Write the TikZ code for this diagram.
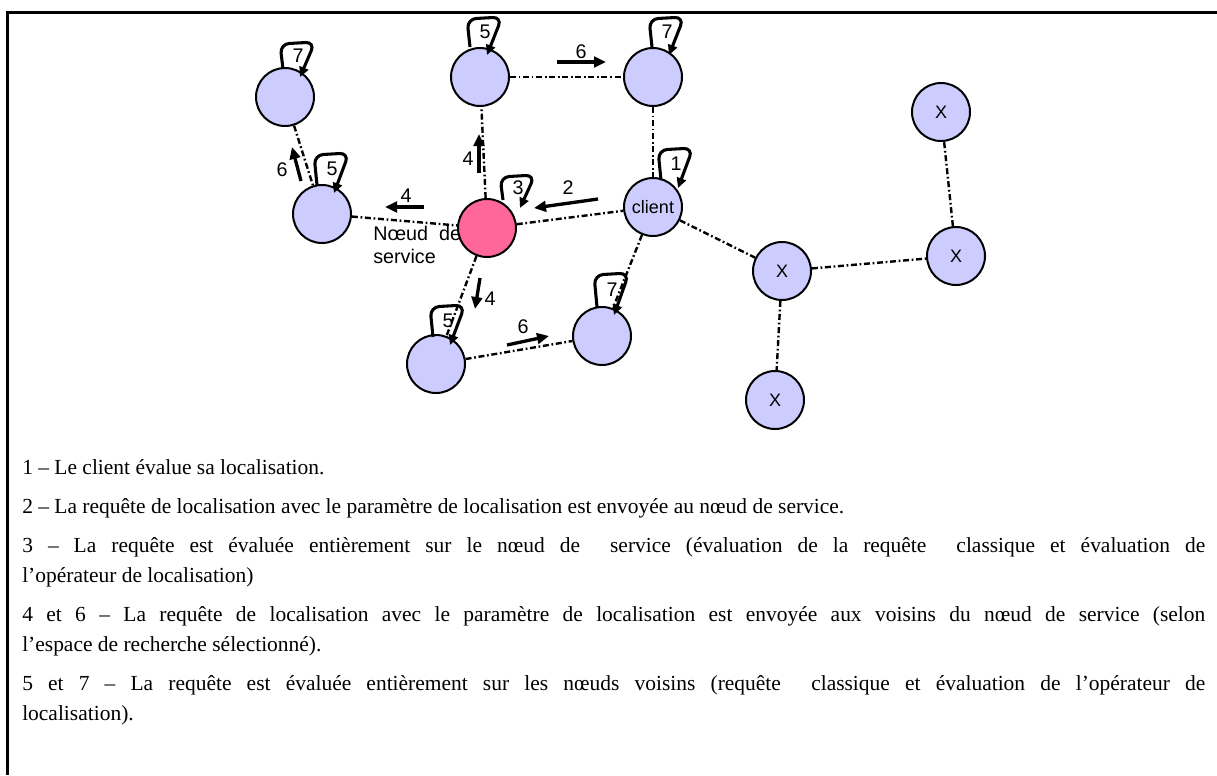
\documentclass[tikz,border=0pt]{standalone}
\usepackage{fontspec}
\setmainfont{Liberation Serif}
\newfontfamily\labfont{Liberation Sans}
\usetikzlibrary{arrows.meta,calc}
\definecolor{lav}{RGB}{204,204,255}
\definecolor{svcpink}{RGB}{255,102,153}
\newcommand\selfloop[6]{% node, dx, dy, h, label, name
  \coordinate (#6s) at ($(#1.center)+(#2,#3)$);
  \draw[lp] (#6s) -- ++(-3,-#4) -- ++(35,-2) -- ($(#6s)+(17,8)$);
  \node[num] (#6) at ($(#6s)+(15,-#4/2-1)$) {#5};}
\begin{document}
\begin{tikzpicture}[x=0.75pt,y=-0.75pt,
  nd/.style={circle,draw=black,line width=1.5pt,fill=lav,minimum size=43.5pt,inner sep=0pt,font=\labfont\fontsize{13.5}{15}\selectfont},
  svc/.style={nd,fill=svcpink},
  edge/.style={line width=1.8pt,dash pattern=on 4.5pt off 2pt on 1.3pt off 2pt},
  msg/.style={line width=2.5pt,-{Triangle[length=9pt,width=8pt]}},
  lp/.style={line width=2.3pt,rounded corners=7pt,-{Triangle[length=7.5pt,width=7pt]}},
  num/.style={font=\labfont\fontsize{14.8}{16}\selectfont,inner sep=0pt},
  lab/.style={anchor=base west,inner sep=0pt,font=\labfont\fontsize{14.8}{16}\selectfont},
  txt/.style={anchor=base west,inner sep=0pt,font=\fontsize{16.1}{18}\selectfont}
]
\useasboundingbox (0,0) rectangle (1217,775);
\draw[line width=2.6pt] (7.5,775) -- (7.5,12.5) -- (1217,12.5);

% service label (under the service node)
\node[lab] (sv1) at (373,240) {Nœud\ \ de};
\node[lab] (sv2) at (373,263) {service};

% nodes
\node[nd] (a7) at (285,97) {};
\node[nd] (t5) at (480,77) {};
\node[nd] (t7) at (653,77) {};
\node[nd] (l5) at (322,214) {};
\node[svc] (s) at (487,228) {};
\node[nd] (c) at (653,207) {client};
\node[nd] (b5) at (436,364) {};
\node[nd] (b7) at (602,336) {};
\node[nd] (xm) at (782,271) {X};
\node[nd] (xr) at (956,256) {X};
\node[nd] (xb) at (775,400) {X};
\node[nd] (xt) at (941,112) {X};

% edges
\draw[edge] (a7) -- (l5);
\draw[edge] (l5) -- (s);
\draw[edge] (s) -- (t5);
\draw[edge] (t5) -- (t7);
\draw[edge] (t7) -- (c);
\draw[edge] (s) -- (c);
\draw[edge] (c) -- (xm);
\draw[edge] (c) -- (b7);
\draw[edge] (s) -- (b5);
\draw[edge] (b5) -- (b7);
\draw[edge] (xm) -- (xr);
\draw[edge] (xr) -- (xt);
\draw[edge] (xm) -- (xb);

% self loops
\selfloop{a7}{-2}{-28}{25}{7}{la7}
\selfloop{t5}{-10}{-30}{28}{5}{lt5}
\selfloop{t7}{-1}{-30}{28}{7}{lt7}
\selfloop{c}{8}{-27}{30}{1}{lc}
\selfloop{s}{16}{-28}{23}{3}{ls}
\selfloop{l5}{-5}{-29}{30}{5}{ll5}
\selfloop{b5}{-3}{-27}{30}{5}{lb5}
\selfloop{b7}{-5}{-29}{32}{7}{lb7}

% message arrows
\coordinate (m6a1) at (557,62); \coordinate (m6a2) at (606,62);
\draw[msg] (m6a1) -- (m6a2); \node[num] (n6a) at (581,52) {6};
\coordinate (m6b1) at (301,181); \coordinate (m6b2) at (292,147);
\draw[msg] (m6b1) -- (m6b2); \node[num] (n6b) at (282,170) {6};
\coordinate (m4a1) at (424,207); \coordinate (m4a2) at (385,207);
\draw[msg] (m4a1) -- (m4a2); \node[num] (n4a) at (406,196) {4};
\coordinate (m4b1) at (479,173); \coordinate (m4b2) at (479,134);
\draw[msg] (m4b1) -- (m4b2); \node[num] (n4b) at (468,159) {4};
\coordinate (m21) at (598,199); \coordinate (m22) at (534,208);
\draw[msg] (m21) -- (m22); \node[num] (n2) at (568,188) {2};
\coordinate (m4c1) at (480,278); \coordinate (m4c2) at (475,309);
\draw[msg] (m4c1) -- (m4c2); \node[num] (n4c) at (490,299) {4};
\coordinate (m6c1) at (507,345); \coordinate (m6c2) at (549,336);
\draw[msg] (m6c1) -- (m6c2); \node[num] (n6c) at (523,327) {6};

% legend text
\node[txt] (t1) at (22,474) {1 – Le client évalue sa localisation.};
\node[txt] (t2) at (22,513) {2 – La requête de localisation avec le paramètre de localisation est envoyée au nœud de service.};
\node[txt] (t3) at (22,552) {\makebox[887.25pt][s]{3 – La requête est évaluée entièrement sur le nœud de\ \ service (évaluation de la requête\ \ classique et évaluation de}};
\node[txt] (t4) at (22,582) {l’opérateur de localisation)};
\node[txt] (t5l) at (22,621) {\makebox[887.25pt][s]{4 et 6 – La requête de localisation avec le paramètre de localisation est envoyée aux voisins du nœud de service (selon}};
\node[txt] (t6) at (22,651) {l’espace de recherche sélectionné).};
\node[txt] (t7l) at (22,690) {\makebox[887.25pt][s]{5 et 7 – La requête est évaluée entièrement sur les nœuds voisins (requête\ \ classique et évaluation de l’opérateur de}};
\node[txt] (t8) at (22,720) {localisation).};
\end{tikzpicture}
\end{document}
